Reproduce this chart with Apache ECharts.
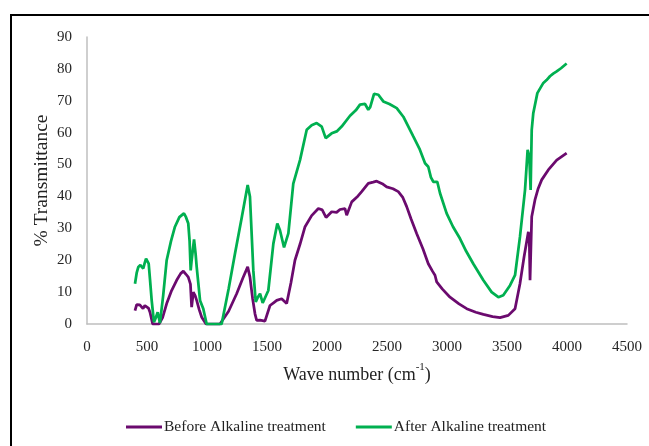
<!DOCTYPE html>
<html>
<head>
<meta charset="utf-8">
<script src="https://cdn.jsdelivr.net/npm/echarts@6/dist/echarts.min.js"></script>
<style>
  html, body { margin: 0; padding: 0; background: #fff; }
  #chart { width: 649px; height: 446px; }
</style>
</head>
<body>
<div id="chart"></div>
<script>
// wave numbers (cm-1) and % transmittance
const beforeWave = [400, 414, 440, 456, 467, 482, 497, 512, 525, 547, 560, 600, 630, 664, 705, 747, 780, 803, 825, 844, 862, 872, 886, 900, 914, 935, 956, 992,
  1050, 1108, 1180, 1247, 1300, 1339, 1358, 1380, 1400, 1414, 1442, 1483, 1525, 1560, 1581, 1622, 1664, 1700, 1733, 1775, 1817, 1872, 1928, 1960, 1992,
  2039, 2080, 2108, 2150, 2164, 2172, 2206, 2250, 2289, 2344, 2385, 2414, 2460, 2497, 2550, 2594, 2630, 2664, 2700, 2747, 2800, 2844, 2880, 2900, 2914,
  2960, 3025, 3100, 3164, 3240, 3303, 3380, 3442, 3511, 3567, 3608, 3642, 3678, 3686, 3692, 3706, 3733, 3760, 3789, 3844, 3914, 3997];
const beforeT = [4.2, 6.1, 6.0, 5.5, 4.8, 5.8, 6.1, 5.0, 3.7, 0, 0, 0, 2.0, 6.4, 10.5, 13.7, 15.8, 16.6, 15.6, 14.7, 12.5, 5.3, 10.0, 9.0, 7.4, 4.5, 2.1, 0,
  0, 0, 4.0, 9.5, 14.5, 17.9, 14.7, 8.0, 3.2, 1.1, 1.2, 0.9, 5.8, 6.8, 7.4, 7.9, 6.4, 13.0, 20.0, 25.0, 30.5, 34.0, 36.2, 35.8, 33.4,
  35.2, 35.0, 35.9, 36.2, 34.1, 34.5, 38.3, 39.8, 41.5, 44.1, 44.5, 44.8, 44.0, 43.0, 42.4, 41.5, 39.8, 36.8, 33.0, 28.4, 23.5, 18.9, 16.5, 15.3, 13.2,
  11.0, 8.4, 6.3, 4.8, 3.7, 3.0, 2.3, 2.0, 2.7, 4.8, 12.6, 21.0, 28.9, 26.0, 13.7, 33.6, 38.9, 42.5, 45.2, 48.3, 51.4, 53.6];

const afterWave = [400, 414, 428, 445, 458, 469, 480, 492, 514, 525, 539, 558, 575, 589, 608, 635, 664, 700, 733, 770, 808, 825, 844, 855, 864, 872, 892, 905, 914, 942, 969, 997,
  1050, 1122, 1180, 1233, 1290, 1339, 1358, 1386, 1406, 1425, 1442, 1464, 1511, 1553, 1586, 1608, 1642, 1678, 1719, 1775, 1831, 1872, 1914, 1956, 1989,
  2039, 2081, 2122, 2192, 2240, 2275, 2317, 2344, 2360, 2392, 2428, 2469, 2520, 2581, 2636, 2719, 2770, 2817, 2844, 2866, 2886, 2919, 2942, 2997,
  3050, 3108, 3160, 3219, 3303, 3372, 3428, 3469, 3525, 3567, 3608, 3650, 3672, 3686, 3697, 3706, 3719, 3753, 3770, 3803, 3830, 3858, 3885, 3914, 3950, 3997];
const afterT = [12.6, 16.0, 17.9, 18.5, 18.2, 17.4, 19.0, 20.5, 18.9, 14.0, 7.4, 0.6, 2.1, 3.7, 0.3, 9.0, 20.0, 26.0, 30.5, 33.5, 34.7, 33.5, 31.5, 26.0, 16.8, 20.0, 26.5, 22.0, 17.9, 7.4, 4.8, 0,
  0, 0, 11.0, 22.0, 33.5, 43.6, 39.9, 16.8, 6.9, 8.5, 9.5, 6.6, 10.5, 25.2, 31.5, 29.4, 24.0, 28.4, 44.0, 51.4, 60.9, 62.3, 63.0, 61.9, 58.3,
  59.8, 60.4, 61.9, 65.3, 67.0, 68.8, 69.0, 67.2, 68.0, 72.2, 71.9, 69.8, 69.0, 67.7, 65.0, 58.8, 55.0, 50.4, 49.3, 46.0, 44.6, 44.6, 41.0, 34.7,
  30.5, 26.8, 22.8, 18.9, 13.7, 10.0, 8.4, 9.0, 12.1, 15.3, 27.3, 42.0, 54.6, 52.5, 42.0, 60.9, 66.1, 72.4, 73.5, 75.6, 76.5, 77.7, 78.5, 79.2, 80.2, 81.7];

const xTicks = [0, 500, 1000, 1500, 2000, 2500, 3000, 3500, 4000, 4500];
const yTicks = [0, 10, 20, 30, 40, 50, 60, 70, 80, 90];

const serif = '"Liberation Serif", "Times New Roman", serif';

(function (){
    const myChart = echarts.init(document.getElementById('chart'))

    const toPairs = function (xs, ys) {
        return xs.map(function (x, i) { return [x, ys[i]] })
    }

    const option = {
        animation: false,
        backgroundColor: '#fff',
        textStyle: { fontFamily: serif },
        grid: {
            left: 87,
            right: 22,
            top: 37,
            bottom: 122
        },
        graphic: [
            {
                type: 'rect',
                shape: { x: 11, y: 15, width: 800, height: 600 },
                style: { fill: 'none', stroke: '#000', lineWidth: 2 },
                silent: true
            }
        ],
        legend: {
            left: 121,
            top: 414,
            itemWidth: 36,
            itemHeight: 3,
            itemGap: 30,
            icon: 'rect',
            textStyle: { fontFamily: serif, fontSize: 15.5, color: '#222', padding: [0, 0, 0, -3] },
            data: ['Before Alkaline treatment', 'After Alkaline treatment']
        },
        xAxis: {
            type: 'value',
            min: xTicks[0],
            max: xTicks[xTicks.length - 1],
            interval: 500,
            name: '{t|Wave number (cm}{s|-1}{t|)}',
            nameLocation: 'middle',
            nameGap: 38,
            nameTextStyle: {
                rich: {
                    t: { fontFamily: serif, fontSize: 18, color: '#222', lineHeight: 22, verticalAlign: 'bottom' },
                    s: { fontFamily: serif, fontSize: 11, color: '#222', lineHeight: 22, verticalAlign: 'top', padding: [0, 0, 9, 0] }
                }
            },
            axisLine: { lineStyle: { color: '#bfbfbf', width: 1.5 } },
            axisTick: { show: false },
            splitLine: { show: false },
            axisLabel: {
                fontFamily: serif, fontSize: 15, color: '#262626', margin: 16,
                formatter: function (v) { return String(v) }
            }
        },
        yAxis: {
            type: 'value',
            min: yTicks[0],
            max: yTicks[yTicks.length - 1],
            interval: 10,
            name: '% Transmittance',
            nameLocation: 'middle',
            nameGap: 35,
            nameMoveOverlap: false,
            nameTextStyle: { fontFamily: serif, fontSize: 19.5, color: '#222' },
            axisLine: { show: true, lineStyle: { color: '#bfbfbf', width: 1.5 } },
            axisTick: { show: false },
            splitLine: { show: false },
            axisLabel: { fontFamily: serif, fontSize: 15, color: '#262626', margin: 15 }
        },
        series: [
            {
                name: 'Before Alkaline treatment',
                type: 'line',
                symbol: 'none',
                data: toPairs(beforeWave, beforeT),
                lineStyle: { color: '#6b0a6e', width: 2.75 },
                itemStyle: { color: '#6b0a6e' }
            },
            {
                name: 'After Alkaline treatment',
                type: 'line',
                symbol: 'none',
                data: toPairs(afterWave, afterT),
                lineStyle: { color: '#00b050', width: 2.75 },
                itemStyle: { color: '#00b050' }
            }
        ]
    }

    myChart.setOption(option)

    window.addEventListener("resize", function () {
        myChart.resize()
    })
})();
</script>
</body>
</html>
